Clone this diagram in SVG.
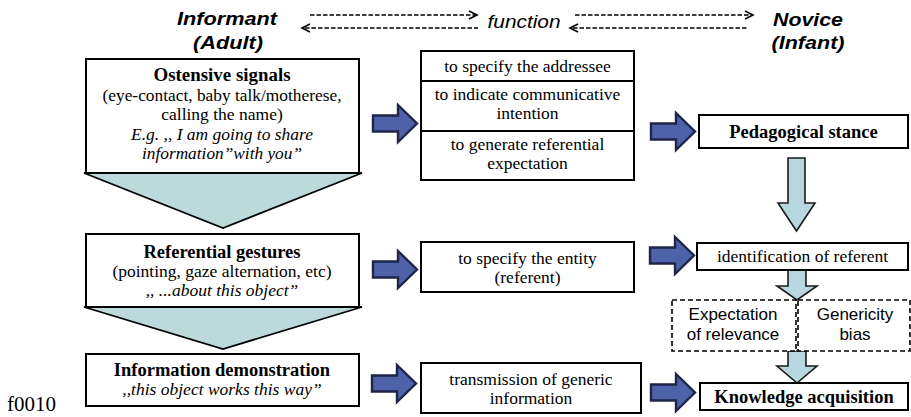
<svg xmlns="http://www.w3.org/2000/svg" width="911" height="417" viewBox="0 0 911 417">
<defs>
<style>
.box{fill:#fff;stroke:#000;stroke-width:2}
.dbox{fill:#fff;stroke:#000;stroke-width:1.6;stroke-dasharray:5 3}
.tri{fill:#bcd9dc;stroke:#000;stroke-width:1.8}
.varr{fill:#b7d7df;stroke:#1a1a1a;stroke-width:1.6}
.barr{fill:#4d62a8;stroke:#1e2548;stroke-width:2.4;stroke-linejoin:miter}
.dash{fill:none;stroke:#000;stroke-width:1.5;stroke-dasharray:4.5 2}
.chev{fill:none;stroke:#000;stroke-width:1.6}
.hdr{font-family:"Liberation Sans",Arial,sans-serif;font-weight:bold;font-style:italic;font-size:19px;text-anchor:middle}
.fn{font-family:"Liberation Sans",Arial,sans-serif;font-style:italic;font-size:19px;text-anchor:middle}
.t{font-family:"Liberation Serif","Times New Roman",serif;font-size:17.5px;text-anchor:middle}
.tb{font-family:"Liberation Serif","Times New Roman",serif;font-size:18.5px;font-weight:bold;text-anchor:middle}
.ti{font-family:"Liberation Serif","Times New Roman",serif;font-size:17.5px;font-style:italic;text-anchor:middle}
.sa{font-family:"Liberation Sans",Arial,sans-serif;font-size:17px;text-anchor:middle}
</style>
<path id="ba" d="M0,10.5 H25 V0 L44,18.5 L25,37 V26.5 H0 Z"/>
</defs>

<g id="header">
<text class="hdr" x="227" y="25" textLength="100" lengthAdjust="spacingAndGlyphs">Informant</text>
<text class="hdr" x="228" y="49" textLength="70" lengthAdjust="spacingAndGlyphs">(Adult)</text>
<text class="fn" x="524" y="28" textLength="73" lengthAdjust="spacingAndGlyphs">function</text>
<text class="hdr" x="808" y="26" textLength="70" lengthAdjust="spacingAndGlyphs">Novice</text>
<text class="hdr" x="808" y="49" textLength="73" lengthAdjust="spacingAndGlyphs">(Infant)</text>
<text x="7" y="411" font-family="Liberation Serif,'Times New Roman',serif" font-size="21">f0010</text>
</g>

<g id="connectors">
<line class="dash" x1="310" y1="15" x2="475" y2="15"/>
<path class="chev" d="M469,11 L477,15 L469,19"/>
<line class="dash" x1="305" y1="28" x2="478" y2="28"/>
<path class="chev" d="M310,24 L302,28 L310,32"/>
<line class="dash" x1="575" y1="15" x2="751" y2="15"/>
<path class="chev" d="M745,11 L753,15 L745,19"/>
<line class="dash" x1="573" y1="28" x2="747" y2="28"/>
<path class="chev" d="M578,24 L570,28 L578,32"/>

<path class="tri" d="M84,173 L362,173 L223,228 Z"/>
<path class="tri" d="M84,307 L362,307 L223,349 Z"/>

<use href="#ba" class="barr" x="373" y="105"/>
<use href="#ba" class="barr" x="373" y="251"/>
<use href="#ba" class="barr" x="372" y="365"/>
<use href="#ba" class="barr" x="651" y="113"/>
<use href="#ba" class="barr" x="650" y="237"/>
<use href="#ba" class="barr" x="651" y="374"/>

<path class="varr" d="M788,158 H805 V203 H815 L796.5,231 L778,203 H788 Z"/>
<path class="varr" d="M788,270 H806 V286 H817 L797,300 L777,286 H788 Z"/>
<path class="varr" d="M788,351 H806 V366 H817 L797,383 L777,366 H788 Z"/>
</g>

<g id="ostensive">
<rect class="box" x="86" y="59" width="273" height="114"/>
<text class="tb" x="222" y="81" textLength="137" lengthAdjust="spacingAndGlyphs">Ostensive signals</text>
<text class="t" x="222" y="101" textLength="239" lengthAdjust="spacingAndGlyphs">(eye-contact, baby talk/motherese,</text>
<text class="t" x="222" y="120">calling the name)</text>
<text class="ti" x="222" y="140" textLength="182" lengthAdjust="spacingAndGlyphs">E.g. ,, I am going to share</text>
<text class="ti" x="222" y="159" textLength="160" lengthAdjust="spacingAndGlyphs">information”with you”</text>
</g>

<g id="referential">
<rect class="box" x="86" y="234" width="273" height="73"/>
<text class="tb" x="222" y="258">Referential gestures</text>
<text class="t" x="222" y="277">(pointing, gaze alternation, etc)</text>
<text class="ti" x="222" y="296">,, ...about this object”</text>
</g>

<g id="demonstration">
<rect class="box" x="86" y="354" width="273" height="52"/>
<text class="tb" x="222" y="376">Information demonstration</text>
<text class="ti" x="222" y="395">,,this object works this way”</text>
</g>

<g id="functions">
<rect class="box" x="421" y="51" width="213" height="129"/>
<line x1="421" y1="81" x2="634" y2="81" stroke="#000" stroke-width="2"/>
<line x1="421" y1="131" x2="634" y2="131" stroke="#000" stroke-width="2"/>
<text class="t" x="527.5" y="72">to specify the addressee</text>
<text class="t" x="527.5" y="100">to indicate communicative</text>
<text class="t" x="527.5" y="119">intention</text>
<text class="t" x="527.5" y="150">to generate referential</text>
<text class="t" x="527.5" y="169">expectation</text>
</g>

<g id="entity">
<rect class="box" x="421" y="242" width="213" height="50"/>
<text class="t" x="527.5" y="264">to specify the entity</text>
<text class="t" x="527.5" y="283">(referent)</text>
</g>

<g id="transmission">
<rect class="box" x="421" y="363" width="220" height="50"/>
<text class="t" x="531" y="385">transmission of generic</text>
<text class="t" x="531" y="404">information</text>
</g>

<g id="pedagogical">
<rect class="box" x="699" y="115" width="209" height="33"/>
<text class="tb" x="803.5" y="138">Pedagogical stance</text>
</g>

<g id="identification">
<rect class="box" x="697" y="243" width="211" height="27"/>
<text class="t" x="802.5" y="262">identification of referent</text>
</g>

<g id="expectation">
<rect class="dbox" x="672" y="300" width="124" height="51"/>
<text class="sa" x="733" y="320">Expectation</text>
<text class="sa" x="733" y="340">of relevance</text>
</g>

<g id="genericity">
<rect class="dbox" x="798" y="300" width="112" height="51"/>
<text class="sa" x="855" y="320">Genericity</text>
<text class="sa" x="855" y="340">bias</text>
</g>

<g id="knowledge">
<rect class="box" x="700" y="383" width="208" height="27"/>
<text class="tb" x="804" y="403">Knowledge acquisition</text>
</g>
</svg>
